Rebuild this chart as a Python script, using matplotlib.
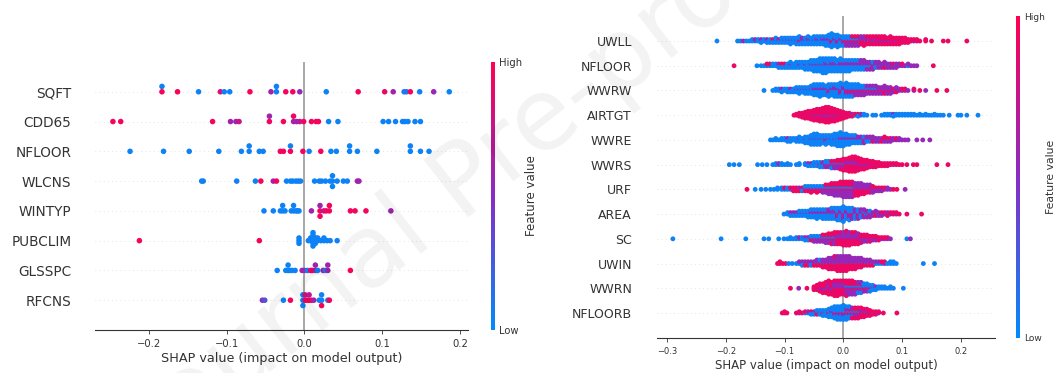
import numpy as np
import matplotlib
matplotlib.use("Agg")
import matplotlib.pyplot as plt
from matplotlib.colors import LinearSegmentedColormap
from matplotlib.cm import ScalarMappable

# ---- left panel: one (shap value, feature value) pair per sample ----
SQFT = [(-0.183, 0.98), (-0.183, 0.05), (-0.163, 0.98), (-0.136, 0.05), (-0.108, 0.85),
        (-0.103, 0.05), (-0.096, 0.05), (-0.070, 0.98), (-0.043, 0.6), (-0.036, 0.05),
        (-0.036, 0.05), (-0.024, 0.95), (-0.015, 0.95), (-0.006, 0.55), (0.028, 0.05),
        (0.069, 0.95), (0.103, 0.9), (0.114, 0.6), (0.128, 0.1), (0.131, 0.1),
        (0.136, 0.95), (0.148, 0.05), (0.166, 0.55), (0.186, 0.05)]
CDD65 = [(-0.246, 0.95), (-0.236, 0.95), (-0.118, 0.95), (-0.095, 0.6), (-0.088, 0.6),
         (-0.084, 0.75), (-0.045, 0.95), (-0.045, 0.6), (-0.027, 0.95), (-0.014, 0.6),
         (-0.014, 0.95), (-0.010, 0.6), (-0.006, 0.7), (-0.001, 0.95), (0.009, 0.95),
         (0.015, 0.95), (0.018, 0.95), (0.031, 0.05), (0.043, 0.05), (0.101, 0.05),
         (0.108, 0.05), (0.117, 0.05), (0.126, 0.05), (0.129, 0.05), (0.133, 0.05),
         (0.142, 0.05), (0.149, 0.05)]
NFLOOR_L = [(-0.224, 0.05), (-0.181, 0.05), (-0.148, 0.05), (-0.110, 0.05), (-0.081, 0.05),
            (-0.071, 0.05), (-0.071, 0.05), (-0.058, 0.05), (-0.053, 0.05), (-0.031, 0.95),
            (-0.027, 0.95), (-0.018, 0.95), (-0.018, 0.05), (-0.002, 0.95), (0.006, 0.05),
            (0.021, 0.95), (0.034, 0.05), (0.041, 0.05), (0.058, 0.05), (0.058, 0.05),
            (0.068, 0.05), (0.093, 0.05), (0.136, 0.05), (0.136, 0.05), (0.149, 0.05),
            (0.160, 0.05)]
WLCNS = [(-0.132, 0.05), (-0.130, 0.05), (-0.087, 0.05), (-0.063, 0.05), (-0.056, 0.95),
         (-0.040, 0.6), (-0.036, 0.95), (-0.023, 0.05), (-0.018, 0.05), (-0.015, 0.05),
         (-0.011, 0.05), (-0.008, 0.05), (-0.005, 0.05), (0.013, 0.05), (0.019, 0.05),
         (0.022, 0.05), (0.027, 0.05), (0.033, 0.05), (0.036, 0.05), (0.036, 0.05),
         (0.036, 0.05), (0.042, 0.05), (0.050, 0.05), (0.055, 0.05), (0.068, 0.6),
         (0.070, 0.6)]
WINTYP = [(-0.052, 0.05), (-0.040, 0.05), (-0.031, 0.05), (-0.028, 0.05), (-0.028, 0.05),
          (-0.025, 0.05), (-0.017, 0.05), (-0.014, 0.05), (-0.014, 0.05), (-0.011, 0.05),
          (-0.009, 0.05), (-0.007, 0.05), (0.009, 0.6), (0.020, 0.95), (0.020, 0.6),
          (0.020, 0.95), (0.025, 0.7), (0.028, 0.95), (0.032, 0.95), (0.032, 0.95),
          (0.059, 0.95), (0.065, 0.95), (0.079, 0.95), (0.111, 0.6)]
PUBCLIM = [(-0.212, 0.95), (-0.058, 0.95), (-0.007, 0.05), (-0.007, 0.05), (-0.007, 0.05),
           (0.005, 0.05), (0.008, 0.05), (0.008, 0.05), (0.011, 0.05), (0.011, 0.05),
           (0.011, 0.05), (0.011, 0.05), (0.011, 0.05), (0.011, 0.05), (0.014, 0.05),
           (0.014, 0.05), (0.014, 0.05), (0.017, 0.05), (0.017, 0.05), (0.021, 0.05),
           (0.025, 0.05), (0.025, 0.05), (0.029, 0.05), (0.033, 0.05), (0.042, 0.05)]
GLSSPC = [(-0.035, 0.05), (-0.024, 0.05), (-0.021, 0.05), (-0.021, 0.05), (-0.019, 0.05),
          (-0.016, 0.05), (-0.012, 0.05), (-0.003, 0.6), (0.000, 0.6), (0.004, 0.05),
          (0.008, 0.95), (0.010, 0.95), (0.014, 0.6), (0.014, 0.6), (0.017, 0.05),
          (0.024, 0.6), (0.027, 0.05), (0.030, 0.6), (0.030, 0.6), (0.059, 0.95)]
RFCNS = [(-0.054, 0.5), (-0.051, 0.3), (-0.027, 0.05), (-0.018, 0.95), (-0.002, 0.05),
         (-0.002, 0.05), (-0.002, 0.05), (0.001, 0.95), (0.001, 0.8), (0.004, 0.95),
         (0.006, 0.95), (0.006, 0.7), (0.009, 0.95), (0.012, 0.6), (0.019, 0.05),
         (0.022, 0.05), (0.022, 0.05), (0.022, 0.95), (0.030, 0.05), (0.032, 0.95)]

left_names = ["SQFT", "CDD65", "NFLOOR", "WLCNS", "WINTYP", "PUBCLIM", "GLSSPC", "RFCNS"]
left_data = [SQFT, CDD65, NFLOOR_L, WLCNS, WINTYP, PUBCLIM, GLSSPC, RFCNS]

# ---- right panel: clusters (shap value, n low, n mid, n high feature value) ----
UWLL = [(-0.215, 1, 0, 0), (-0.180, 1, 0, 0), (-0.175, 1, 0, 0), (-0.170, 0, 1, 0), (-0.165, 1, 0, 0),
        (-0.160, 1, 0, 0), (-0.155, 2, 0, 0), (-0.150, 1, 1, 0), (-0.145, 2, 0, 0), (-0.140, 2, 1, 0),
        (-0.135, 2, 0, 0), (-0.130, 2, 1, 0), (-0.125, 3, 0, 0), (-0.120, 2, 0, 1), (-0.115, 3, 1, 0),
        (-0.110, 2, 1, 0), (-0.105, 3, 1, 0), (-0.100, 3, 1, 0), (-0.095, 3, 1, 0), (-0.090, 4, 1, 0),
        (-0.085, 3, 1, 0), (-0.080, 4, 1, 0), (-0.075, 4, 1, 1), (-0.070, 3, 2, 0), (-0.065, 4, 1, 0),
        (-0.060, 4, 2, 0), (-0.055, 4, 1, 0), (-0.050, 5, 1, 0), (-0.045, 4, 2, 0), (-0.040, 5, 1, 0),
        (-0.035, 4, 2, 0), (-0.030, 5, 2, 0), (-0.025, 6, 2, 0), (-0.020, 7, 2, 1), (-0.015, 6, 2, 0),
        (-0.010, 6, 2, 1), (-0.005, 5, 2, 0), (0.000, 4, 2, 1), (0.005, 3, 3, 1), (0.010, 3, 3, 1),
        (0.015, 2, 3, 2), (0.020, 2, 3, 2), (0.025, 2, 3, 2), (0.030, 1, 3, 2), (0.035, 1, 3, 3),
        (0.040, 1, 2, 3), (0.045, 1, 2, 3), (0.050, 0, 2, 4), (0.055, 1, 2, 3), (0.060, 0, 2, 4),
        (0.065, 0, 2, 4), (0.070, 0, 2, 4), (0.075, 0, 2, 3), (0.080, 0, 2, 4), (0.085, 0, 1, 4),
        (0.090, 0, 2, 3), (0.095, 0, 1, 4), (0.100, 0, 1, 3), (0.105, 0, 1, 3), (0.110, 0, 1, 2),
        (0.115, 0, 0, 2), (0.120, 0, 1, 1), (0.125, 0, 0, 2), (0.130, 0, 0, 1), (0.140, 0, 0, 2),
        (0.150, 0, 0, 1), (0.170, 0, 0, 1), (0.178, 0, 0, 1), (0.210, 0, 0, 1)]
NFLOOR_R = [(-0.186, 0, 0, 1), (-0.147, 1, 0, 0), (-0.140, 1, 0, 0), (-0.135, 1, 0, 0), (-0.130, 1, 0, 1),
            (-0.125, 1, 0, 1), (-0.120, 2, 0, 0), (-0.115, 2, 0, 0), (-0.110, 2, 1, 0), (-0.105, 2, 0, 1),
            (-0.100, 2, 0, 1), (-0.095, 3, 0, 0), (-0.090, 3, 1, 0), (-0.085, 3, 0, 0), (-0.080, 4, 0, 0),
            (-0.075, 3, 1, 0), (-0.070, 4, 0, 0), (-0.065, 4, 1, 0), (-0.060, 5, 0, 0), (-0.055, 5, 1, 0),
            (-0.050, 6, 1, 0), (-0.045, 6, 1, 0), (-0.040, 7, 1, 0), (-0.035, 8, 1, 0), (-0.030, 7, 2, 0),
            (-0.025, 7, 1, 0), (-0.020, 6, 2, 0), (-0.015, 6, 2, 0), (-0.010, 6, 1, 0), (-0.005, 6, 2, 0),
            (0.000, 5, 2, 0), (0.005, 5, 2, 0), (0.010, 5, 2, 0), (0.015, 4, 2, 0), (0.020, 4, 2, 0),
            (0.025, 4, 2, 0), (0.030, 3, 3, 0), (0.035, 3, 3, 0), (0.040, 2, 3, 0), (0.045, 2, 3, 0),
            (0.050, 2, 2, 1), (0.055, 2, 2, 0), (0.060, 1, 3, 0), (0.065, 1, 2, 0), (0.070, 1, 2, 1),
            (0.075, 1, 2, 0), (0.080, 1, 2, 0), (0.085, 0, 2, 1), (0.090, 1, 2, 0), (0.095, 0, 2, 0),
            (0.100, 0, 1, 1), (0.105, 0, 1, 0), (0.110, 1, 1, 0), (0.115, 0, 1, 0), (0.120, 0, 1, 0),
            (0.125, 0, 1, 0), (0.153, 0, 0, 1)]
WWRW = [(-0.135, 1, 0, 0), (-0.120, 1, 0, 0), (-0.115, 2, 0, 0), (-0.110, 2, 0, 0), (-0.105, 2, 1, 0),
        (-0.100, 2, 0, 0), (-0.095, 3, 0, 0), (-0.090, 2, 1, 0), (-0.085, 3, 0, 0), (-0.080, 3, 1, 0),
        (-0.075, 4, 1, 0), (-0.070, 3, 1, 0), (-0.065, 4, 1, 0), (-0.060, 4, 1, 0), (-0.055, 5, 1, 0),
        (-0.050, 6, 2, 0), (-0.045, 6, 2, 0), (-0.040, 7, 2, 0), (-0.035, 6, 2, 0), (-0.030, 5, 2, 0),
        (-0.025, 6, 2, 1), (-0.020, 6, 2, 0), (-0.015, 6, 3, 0), (-0.010, 7, 2, 0), (-0.005, 6, 3, 1),
        (0.000, 6, 3, 0), (0.005, 6, 3, 1), (0.010, 5, 3, 1), (0.015, 5, 3, 1), (0.020, 4, 3, 1),
        (0.025, 4, 3, 1), (0.030, 3, 3, 1), (0.035, 3, 3, 1), (0.040, 2, 3, 1), (0.045, 2, 3, 1),
        (0.050, 2, 3, 1), (0.055, 2, 3, 1), (0.060, 1, 3, 1), (0.065, 1, 3, 1), (0.070, 1, 3, 2),
        (0.075, 1, 3, 1), (0.080, 1, 3, 1), (0.085, 0, 2, 1), (0.090, 1, 2, 1), (0.095, 0, 2, 0),
        (0.100, 0, 1, 1), (0.105, 0, 1, 1), (0.110, 0, 1, 0), (0.120, 0, 1, 1), (0.130, 0, 0, 1),
        (0.140, 0, 1, 0), (0.159, 0, 0, 1), (0.176, 0, 0, 1)]
AIRTGT = [(-0.084, 0, 0, 1), (-0.080, 0, 0, 2), (-0.075, 0, 1, 3), (-0.070, 0, 1, 4), (-0.065, 0, 2, 5),
          (-0.060, 0, 2, 6), (-0.055, 0, 2, 7), (-0.050, 0, 3, 8), (-0.045, 0, 3, 9), (-0.040, 0, 3, 10),
          (-0.035, 0, 3, 11), (-0.030, 0, 4, 12), (-0.025, 0, 4, 12), (-0.020, 0, 3, 11), (-0.015, 0, 3, 10),
          (-0.010, 0, 3, 8), (-0.005, 0, 2, 7), (0.000, 0, 2, 5), (0.005, 1, 1, 3), (0.010, 1, 1, 2),
          (0.015, 1, 1, 1), (0.020, 1, 0, 1), (0.025, 2, 0, 1), (0.030, 1, 1, 0), (0.035, 2, 0, 0),
          (0.040, 1, 0, 0), (0.050, 1, 0, 0), (0.055, 1, 0, 0), (0.065, 1, 0, 0), (0.070, 2, 0, 0),
          (0.075, 2, 0, 0), (0.080, 2, 0, 0), (0.085, 2, 1, 0), (0.090, 2, 0, 0), (0.095, 2, 0, 0),
          (0.100, 2, 0, 0), (0.105, 2, 0, 0), (0.110, 2, 0, 0), (0.115, 2, 0, 0), (0.120, 2, 0, 0),
          (0.125, 1, 0, 0), (0.130, 2, 0, 0), (0.135, 1, 0, 0), (0.140, 2, 0, 0), (0.145, 1, 0, 0),
          (0.150, 1, 0, 0), (0.155, 2, 0, 0), (0.160, 1, 0, 0), (0.165, 1, 0, 0), (0.170, 1, 0, 0),
          (0.180, 1, 0, 0), (0.195, 1, 0, 0), (0.200, 1, 0, 0), (0.210, 1, 0, 0), (0.229, 1, 0, 0)]
WWRE = [(-0.124, 1, 0, 0), (-0.120, 1, 0, 0), (-0.115, 2, 0, 0), (-0.110, 1, 0, 0), (-0.105, 2, 0, 0),
        (-0.100, 2, 0, 0), (-0.095, 2, 1, 0), (-0.090, 3, 0, 0), (-0.085, 2, 0, 0), (-0.080, 3, 0, 0),
        (-0.075, 3, 1, 0), (-0.070, 3, 0, 0), (-0.065, 4, 1, 0), (-0.060, 5, 0, 0), (-0.055, 6, 1, 0),
        (-0.050, 7, 1, 0), (-0.045, 7, 1, 0), (-0.040, 6, 1, 0), (-0.035, 5, 1, 0), (-0.030, 5, 1, 1),
        (-0.025, 5, 1, 0), (-0.020, 6, 1, 0), (-0.015, 7, 1, 0), (-0.010, 8, 1, 0), (-0.005, 8, 2, 0),
        (0.000, 7, 2, 0), (0.005, 6, 2, 0), (0.010, 5, 2, 0), (0.015, 4, 2, 0), (0.020, 4, 2, 0),
        (0.025, 3, 2, 0), (0.030, 3, 2, 0), (0.035, 2, 2, 1), (0.040, 2, 2, 0), (0.045, 2, 2, 0),
        (0.050, 1, 2, 1), (0.055, 1, 2, 0), (0.060, 1, 2, 0), (0.065, 1, 1, 1), (0.070, 0, 2, 2),
        (0.075, 0, 2, 1), (0.080, 0, 2, 1), (0.085, 0, 2, 0), (0.090, 0, 1, 1), (0.095, 0, 2, 0),
        (0.100, 0, 1, 0), (0.105, 0, 1, 0), (0.110, 0, 1, 0), (0.125, 0, 1, 0), (0.135, 0, 1, 0),
        (0.147, 0, 1, 0)]
WWRS = [(-0.194, 1, 0, 0), (-0.186, 1, 0, 0), (-0.177, 1, 0, 0), (-0.146, 1, 0, 0), (-0.138, 1, 0, 0),
        (-0.130, 1, 0, 0), (-0.120, 1, 0, 0), (-0.115, 2, 0, 0), (-0.110, 1, 1, 0), (-0.105, 2, 0, 0),
        (-0.100, 1, 0, 0), (-0.095, 2, 0, 0), (-0.090, 1, 0, 0), (-0.080, 1, 0, 0), (-0.075, 2, 0, 0),
        (-0.065, 2, 0, 0), (-0.060, 2, 1, 0), (-0.055, 2, 1, 0), (-0.050, 3, 1, 0), (-0.045, 3, 1, 0),
        (-0.040, 3, 1, 1), (-0.035, 3, 2, 0), (-0.030, 3, 2, 1), (-0.025, 3, 2, 1), (-0.020, 3, 2, 2),
        (-0.015, 2, 3, 2), (-0.010, 2, 3, 3), (-0.005, 2, 3, 4), (0.000, 2, 4, 5), (0.005, 1, 4, 6),
        (0.010, 1, 4, 8), (0.015, 1, 4, 9), (0.020, 1, 4, 9), (0.025, 1, 3, 8), (0.030, 0, 3, 7),
        (0.035, 0, 3, 6), (0.040, 0, 3, 5), (0.045, 0, 2, 4), (0.050, 0, 2, 4), (0.055, 0, 2, 3),
        (0.060, 0, 1, 3), (0.065, 0, 1, 2), (0.070, 0, 1, 2), (0.075, 0, 1, 2), (0.080, 0, 0, 2),
        (0.085, 0, 1, 1), (0.090, 0, 0, 2), (0.095, 0, 0, 1), (0.100, 0, 0, 1), (0.108, 0, 0, 1),
        (0.119, 0, 0, 1), (0.125, 0, 0, 1), (0.159, 0, 0, 1), (0.178, 0, 0, 1)]
URF = [(-0.164, 0, 0, 1), (-0.150, 1, 0, 0), (-0.140, 1, 0, 0), (-0.132, 1, 0, 0), (-0.124, 1, 0, 0),
       (-0.118, 1, 0, 0), (-0.112, 2, 0, 0), (-0.105, 2, 0, 0), (-0.100, 1, 0, 1), (-0.095, 2, 0, 0),
       (-0.090, 1, 0, 1), (-0.085, 1, 0, 2), (-0.080, 1, 0, 2), (-0.075, 1, 1, 1), (-0.070, 2, 0, 1),
       (-0.065, 2, 1, 1), (-0.060, 2, 1, 1), (-0.055, 2, 1, 2), (-0.050, 2, 1, 1), (-0.045, 2, 1, 2),
       (-0.040, 2, 1, 1), (-0.035, 2, 2, 1), (-0.030, 2, 2, 2), (-0.025, 2, 3, 2), (-0.020, 2, 3, 3),
       (-0.015, 2, 4, 3), (-0.010, 2, 4, 3), (-0.005, 2, 4, 4), (0.000, 2, 5, 4), (0.005, 2, 5, 4),
       (0.010, 2, 5, 4), (0.015, 2, 5, 4), (0.020, 1, 4, 4), (0.025, 1, 4, 4), (0.030, 1, 4, 3),
       (0.035, 1, 3, 3), (0.040, 1, 3, 2), (0.045, 1, 3, 2), (0.050, 0, 3, 2), (0.055, 0, 2, 1),
       (0.060, 0, 2, 1), (0.065, 0, 2, 1), (0.070, 0, 1, 1), (0.075, 0, 2, 0), (0.080, 0, 1, 0),
       (0.085, 0, 0, 1), (0.091, 0, 0, 1), (0.105, 0, 1, 0)]
AREA = [(-0.101, 1, 0, 0), (-0.095, 2, 0, 0), (-0.090, 2, 1, 0), (-0.085, 2, 1, 0), (-0.080, 2, 1, 0),
        (-0.075, 3, 1, 0), (-0.070, 3, 1, 0), (-0.065, 3, 1, 0), (-0.060, 4, 1, 0), (-0.055, 4, 2, 0),
        (-0.050, 4, 2, 0), (-0.045, 5, 2, 0), (-0.040, 4, 2, 0), (-0.035, 5, 2, 0), (-0.030, 5, 2, 0),
        (-0.025, 4, 3, 0), (-0.020, 5, 3, 0), (-0.015, 5, 3, 0), (-0.010, 5, 3, 1), (-0.005, 6, 3, 0),
        (0.000, 6, 4, 1), (0.005, 5, 3, 0), (0.010, 5, 3, 1), (0.015, 4, 3, 1), (0.020, 4, 3, 0),
        (0.025, 3, 3, 1), (0.030, 3, 3, 0), (0.035, 2, 3, 1), (0.040, 2, 3, 0), (0.045, 2, 2, 1),
        (0.050, 1, 2, 0), (0.055, 1, 2, 1), (0.060, 1, 2, 0), (0.065, 0, 2, 1), (0.070, 0, 1, 1),
        (0.075, 1, 1, 1), (0.080, 0, 1, 1), (0.085, 0, 0, 2), (0.090, 0, 1, 1), (0.095, 0, 0, 1),
        (0.108, 0, 0, 1), (0.133, 0, 0, 1)]
SC = [(-0.290, 1, 0, 0), (-0.208, 1, 0, 0), (-0.166, 1, 0, 0), (-0.135, 1, 0, 0), (-0.127, 1, 0, 0),
      (-0.110, 1, 0, 0), (-0.101, 1, 0, 0), (-0.095, 1, 0, 0), (-0.090, 2, 0, 0), (-0.085, 1, 0, 0),
      (-0.080, 2, 0, 0), (-0.075, 1, 1, 0), (-0.070, 2, 0, 0), (-0.065, 2, 1, 0), (-0.060, 2, 1, 0),
      (-0.055, 2, 1, 1), (-0.050, 2, 2, 1), (-0.045, 2, 2, 1), (-0.040, 2, 2, 1), (-0.035, 2, 2, 2),
      (-0.030, 2, 3, 2), (-0.025, 2, 3, 3), (-0.020, 2, 3, 4), (-0.015, 2, 4, 4), (-0.010, 1, 4, 5),
      (-0.005, 1, 4, 5), (0.000, 1, 5, 5), (0.005, 1, 5, 6), (0.010, 1, 5, 5), (0.015, 1, 4, 5),
      (0.020, 1, 4, 5), (0.025, 1, 4, 4), (0.030, 0, 3, 4), (0.035, 0, 3, 3), (0.040, 0, 3, 3),
      (0.045, 0, 2, 3), (0.050, 0, 2, 2), (0.055, 0, 2, 2), (0.060, 0, 1, 2), (0.065, 0, 1, 1),
      (0.070, 0, 1, 1), (0.075, 0, 1, 1), (0.080, 0, 1, 0), (0.108, 1, 0, 0), (0.114, 0, 1, 0)]
UWIN = [(-0.112, 0, 0, 1), (-0.108, 0, 0, 2), (-0.103, 0, 0, 1), (-0.098, 0, 0, 1), (-0.093, 1, 0, 0),
        (-0.087, 1, 0, 0), (-0.080, 1, 0, 0), (-0.075, 1, 1, 0), (-0.070, 2, 1, 0), (-0.065, 1, 1, 1),
        (-0.060, 1, 1, 1), (-0.055, 2, 1, 0), (-0.050, 1, 1, 1), (-0.045, 1, 2, 1), (-0.040, 2, 1, 1),
        (-0.035, 1, 2, 2), (-0.030, 1, 2, 2), (-0.025, 1, 3, 3), (-0.020, 1, 3, 3), (-0.015, 1, 3, 4),
        (-0.010, 1, 4, 4), (-0.005, 1, 4, 4), (0.000, 1, 4, 4), (0.005, 1, 4, 4), (0.010, 1, 4, 3),
        (0.015, 1, 3, 3), (0.020, 1, 3, 3), (0.025, 1, 3, 2), (0.030, 1, 3, 2), (0.035, 1, 2, 1),
        (0.040, 1, 2, 1), (0.045, 1, 2, 1), (0.050, 1, 1, 1), (0.055, 1, 1, 0), (0.060, 1, 1, 0),
        (0.065, 1, 0, 1), (0.070, 0, 1, 1), (0.075, 1, 0, 0), (0.080, 2, 0, 0), (0.085, 2, 0, 0),
        (0.090, 1, 0, 0), (0.136, 1, 0, 0), (0.155, 1, 0, 0)]
WWRN = [(-0.090, 0, 0, 1), (-0.076, 0, 1, 0), (-0.062, 0, 0, 1), (-0.050, 0, 1, 2), (-0.045, 0, 1, 3),
        (-0.040, 0, 2, 4), (-0.035, 0, 2, 5), (-0.030, 0, 3, 5), (-0.025, 1, 3, 6), (-0.020, 0, 3, 6),
        (-0.015, 1, 4, 6), (-0.010, 1, 4, 6), (-0.005, 1, 4, 5), (0.000, 1, 4, 5), (0.005, 2, 4, 5),
        (0.010, 2, 4, 4), (0.015, 2, 4, 4), (0.020, 2, 4, 3), (0.025, 3, 3, 2), (0.030, 3, 3, 2),
        (0.035, 3, 2, 1), (0.040, 3, 2, 1), (0.045, 3, 1, 1), (0.050, 3, 1, 0), (0.055, 2, 1, 0),
        (0.060, 2, 0, 0), (0.065, 2, 0, 0), (0.070, 2, 0, 0), (0.075, 1, 0, 0), (0.080, 2, 0, 0),
        (0.085, 1, 0, 0), (0.102, 1, 0, 0)]
NFLOORB = [(-0.104, 0, 0, 1), (-0.100, 0, 0, 2), (-0.096, 0, 0, 1), (-0.080, 0, 0, 1), (-0.075, 0, 1, 1),
           (-0.070, 0, 0, 1), (-0.065, 1, 0, 1), (-0.060, 1, 1, 0), (-0.055, 2, 0, 1), (-0.050, 2, 1, 0),
           (-0.045, 2, 1, 1), (-0.040, 3, 1, 0), (-0.035, 3, 1, 1), (-0.030, 4, 1, 0), (-0.025, 5, 1, 1),
           (-0.020, 6, 2, 0), (-0.015, 7, 2, 1), (-0.010, 8, 2, 1), (-0.005, 8, 2, 1), (0.000, 8, 3, 1),
           (0.005, 6, 3, 2), (0.010, 5, 3, 2), (0.015, 3, 3, 3), (0.020, 2, 3, 4), (0.025, 2, 3, 4),
           (0.030, 1, 3, 4), (0.035, 1, 2, 4), (0.040, 1, 2, 3), (0.045, 0, 2, 3), (0.050, 0, 1, 2),
           (0.055, 0, 1, 2), (0.060, 0, 1, 1), (0.068, 0, 0, 1), (0.091, 0, 0, 1)]

right_names = ["UWLL", "NFLOOR", "WWRW", "AIRTGT", "WWRE", "WWRS",
               "URF", "AREA", "SC", "UWIN", "WWRN", "NFLOORB"]
right_data = [UWLL, NFLOOR_R, WWRW, AIRTGT, WWRE, WWRS, URF, AREA, SC, UWIN, WWRN, NFLOORB]

LOW, MID, HIGH = 0.05, 0.55, 0.92

cmap = LinearSegmentedColormap.from_list("red_blue", ["#008bfb", "#8a2bc4", "#ff0052"])
TXT = "#333333"


def expand(clusters):
    # mix the low / mid / high samples of a cluster so colours interleave
    xs, cs = [], []
    for x, lo, mid, hi in clusters:
        groups = [[LOW] * lo, [MID] * mid, [HIGH] * hi]
        while any(groups):
            for g in groups:
                if g:
                    xs.append(x)
                    cs.append(g.pop())
    return xs, cs


def swarm(x, row_height=0.4, nbins=100):
    # same stacking rule as shap's summary plot
    x = np.asarray(x, float)
    quant = np.round(nbins * (x - x.min()) / (x.max() - x.min() + 1e-8))
    order = np.argsort(quant, kind="stable")
    ys = np.zeros(len(x))
    layer, last = 0, -1
    for i in order:
        if quant[i] != last:
            layer = 0
        ys[i] = np.ceil(layer / 2) * ((layer % 2) * 2 - 1)
        layer += 1
        last = quant[i]
    ys *= 0.9 * (row_height / np.max(ys + 1))
    return ys


def beeswarm(ax, rows, names, size, xlim, xticks, label_fs, tick_fs, xlab_fs, pad):
    n = len(rows)
    for i, (xs, cs) in enumerate(rows):
        pos = n - 1 - i
        ax.axhline(pos, color="#cccccc", lw=0.5, dashes=(1, 5), zorder=-1)
        ys = pos + swarm(xs)
        ax.scatter(xs, ys, c=cs, cmap=cmap, vmin=0, vmax=1, s=size, lw=0, zorder=3)
    ax.axvline(0, color="#999999", lw=1.2, zorder=-1)
    ax.set_xlim(*xlim)
    ax.set_ylim(-1, n)
    ax.set_yticks(range(n))
    ax.set_yticklabels(names[::-1], fontsize=label_fs, color=TXT)
    ax.tick_params("y", length=0, pad=pad)
    ax.set_xticks(xticks)
    ax.tick_params("x", labelsize=tick_fs, colors=TXT, length=3, width=0.6)
    for s in ["top", "right", "left"]:
        ax.spines[s].set_visible(False)
    ax.spines["bottom"].set_color(TXT)
    ax.spines["bottom"].set_linewidth(0.8)
    ax.set_xlabel("SHAP value (impact on model output)", fontsize=xlab_fs, color=TXT, labelpad=2)


def colorbar(fig, rect, fs):
    cax = fig.add_axes(rect)
    cb = fig.colorbar(ScalarMappable(cmap=cmap), cax=cax)
    cb.outline.set_visible(False)
    cb.set_ticks([0, 1])
    cb.set_ticklabels(["Low", "High"])
    cax.tick_params(length=0, labelsize=fs, colors=TXT, pad=3)
    return cax


fig = plt.figure(figsize=(10.58, 3.73), dpi=100)

left_rows = [([p[0] for p in d], [p[1] for p in d]) for d in left_data]
right_rows = [expand(d) for d in right_data]

ax1 = fig.add_axes([0.0898, 0.1153, 0.3525, 0.7185])
beeswarm(ax1, left_rows, left_names, 16, (-0.269, 0.210), [-0.2, -0.1, 0.0, 0.1, 0.2],
         9.8, 7.2, 9.2, 17)

ax2 = fig.add_axes([0.621, 0.0946, 0.3195, 0.8617])
beeswarm(ax2, right_rows, right_names, 12, (-0.317, 0.258), [-0.3, -0.2, -0.1, 0.0, 0.1, 0.2],
         9.0, 6.0, 8.5, 18)

colorbar(fig, [0.4641, 0.1153, 0.0038, 0.7185], 7.2)
colorbar(fig, [0.9603, 0.0946, 0.0038, 0.8617], 6.5)
fig.text(531.5 / 1058, 1 - 196 / 373, "Feature value", rotation=90, ha="center", va="center",
         fontsize=8.5, color=TXT)
fig.text(1051.5 / 1058, 1 - 177 / 373, "Feature value", rotation=90, ha="center", va="center",
         fontsize=7.8, color=TXT)

# faint watermark of the source pdf, cut by the figure edge as in the original
fig.text(475 / 1058, 1 - 180 / 373, "Journal Pre-proof", rotation=38, ha="center", va="center",
         fontsize=72, color="black", alpha=0.05)

fig.savefig("out.png", dpi=100)
